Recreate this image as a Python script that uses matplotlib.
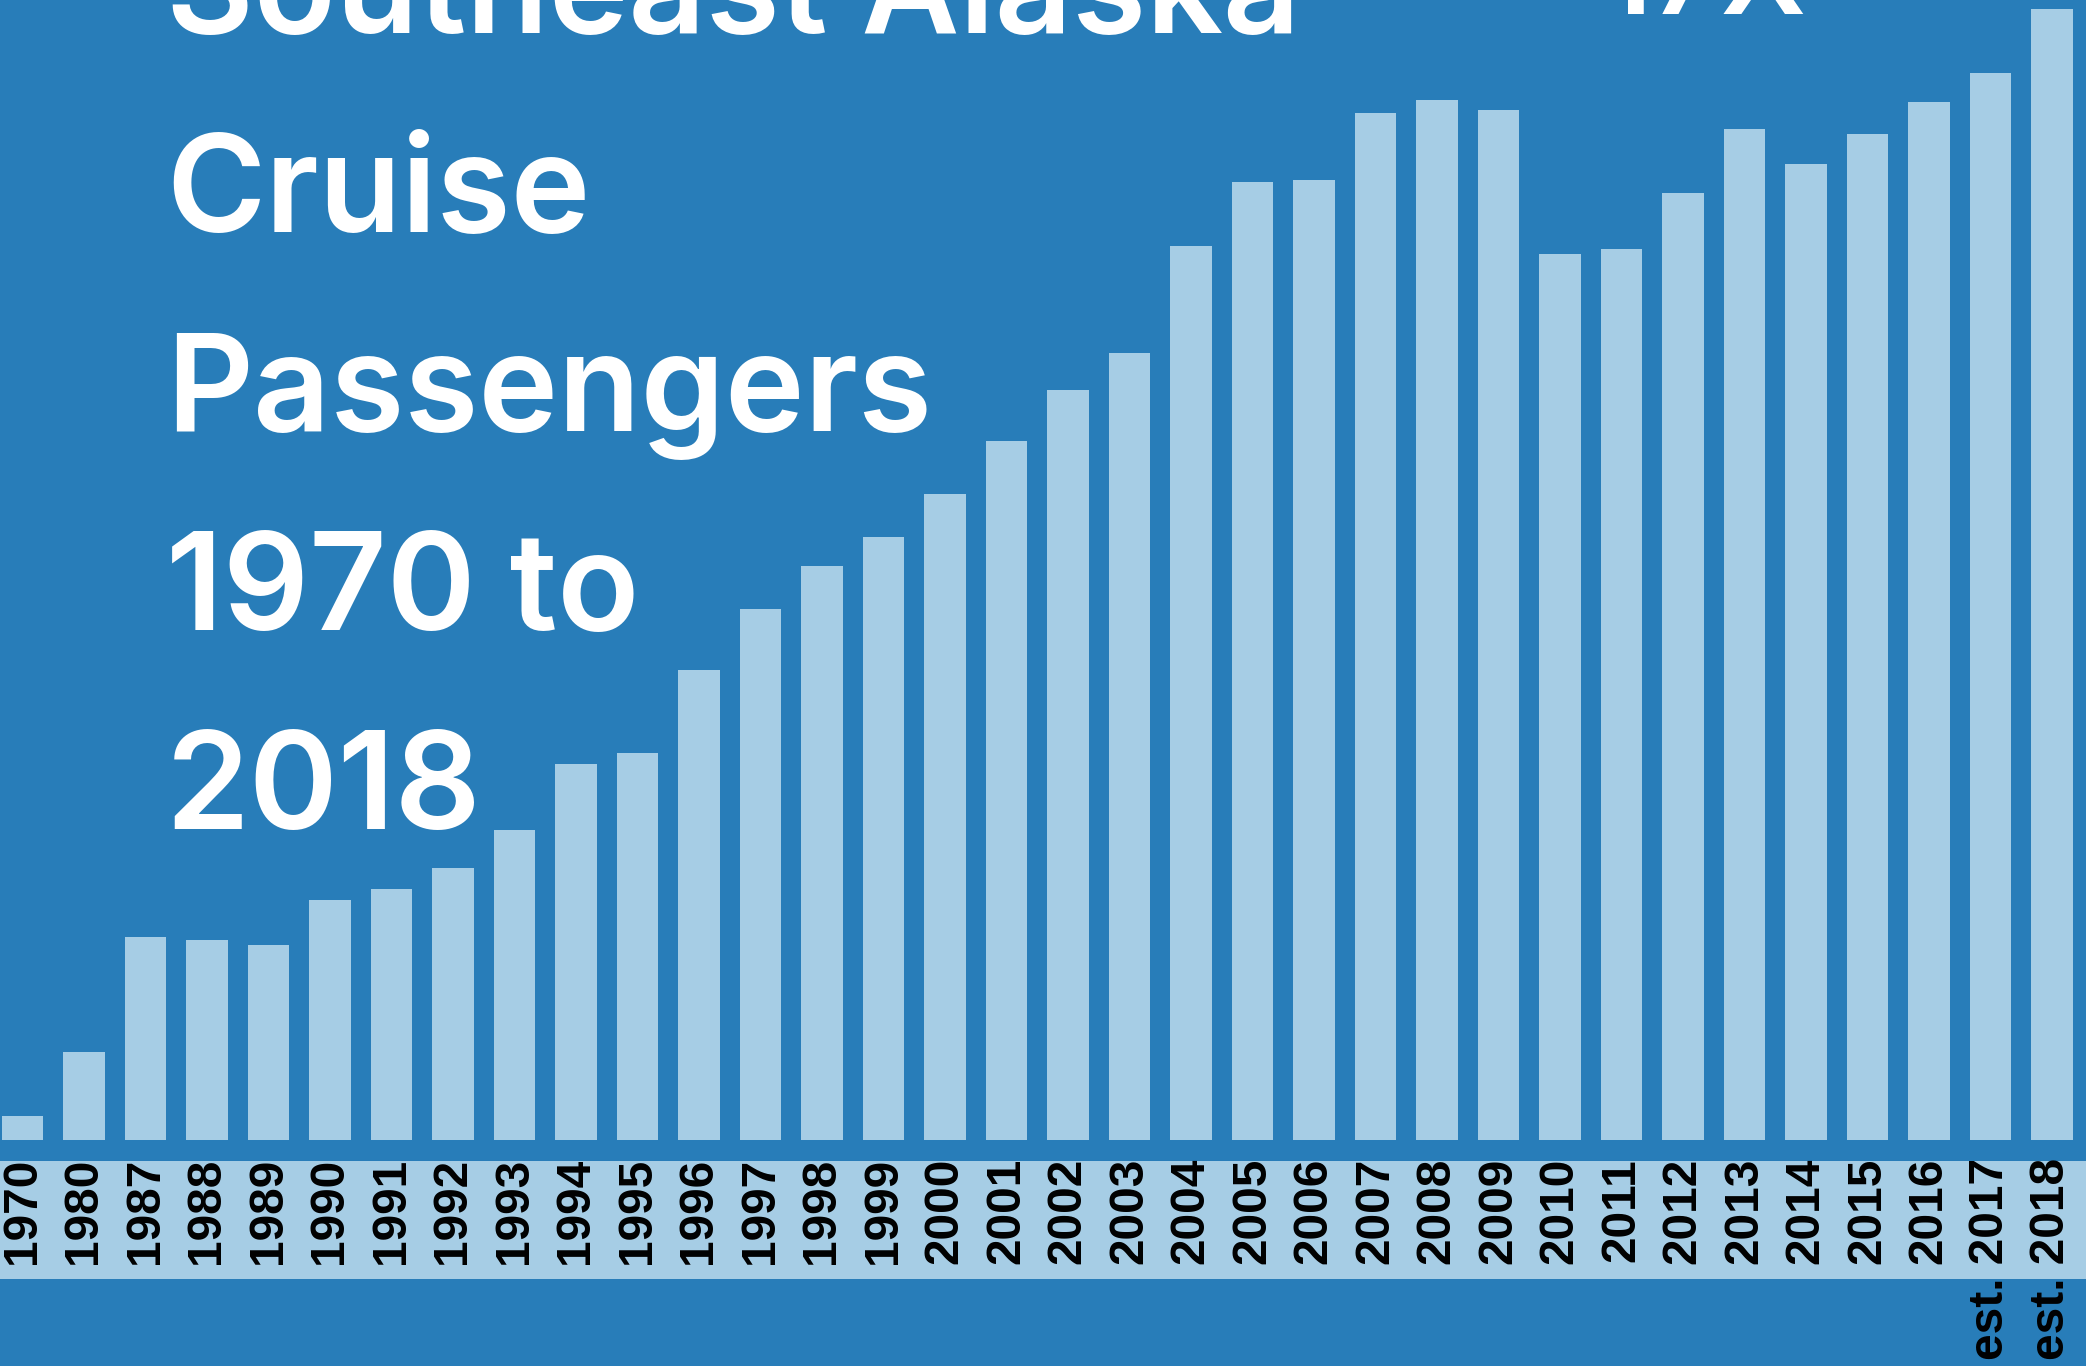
import matplotlib.pyplot as plt
from matplotlib.patches import Rectangle

# passengers, thousands
years = ['1970', '1980', '1987', '1988', '1989', '1990', '1991', '1992', '1993',
         '1994', '1995', '1996', '1997', '1998', '1999', '2000', '2001', '2002',
         '2003', '2004', '2005', '2006', '2007', '2008', '2009', '2010', '2011',
         '2012', '2013', '2014', '2015', '2016', 'est. 2017', 'est. 2018']
passengers = [25, 91, 210, 207, 202, 248, 260, 281, 321, 389, 400, 486, 549, 594,
              624, 668, 723, 776, 814, 925, 991, 993, 1062, 1076, 1065, 917, 922,
              980, 1046, 1010, 1041, 1074, 1104, 1170]
title_lines = ['Southeast Alaska', 'Cruise', 'Passengers', '1970 to', '2018']

bg = '#287db9'
light = '#a6cde5'

W, H = 2086, 1366
fig = plt.figure(figsize=(W / 100, H / 100), dpi=100, facecolor=bg)

# band behind the year labels
fig.patches.append(Rectangle((0, 87 / H), 1, 118 / H, transform=fig.transFigure,
                             facecolor=light, edgecolor='none', zorder=-1))

ax = fig.add_axes([0, 226 / H, 1, 1140 / H])
ax.set_facecolor('none')
x = list(range(len(years)))
ax.bar(x, passengers, width=0.67, color=light, zorder=2)
ax.set_xlim(-22.5 / 61.5, (W - 22.5) / 61.5)
ax.set_ylim(0, 1179.3)
ax.set_xticks(x)
ax.set_xticklabels(years, rotation=90, fontsize=34.5, fontweight='bold',
                   family='Liberation Sans', color='black')
ax.tick_params(axis='x', length=0, pad=13)
ax.set_yticks([])
for s in ax.spines.values():
    s.set_visible(False)

# big title, partly running off the top
for i, line in enumerate(title_lines):
    fig.text(166 / W, 1 - (33 + 199 * i) / H, line, fontsize=97, color='white',
             family='Inter', fontweight='semibold', va='baseline', ha='left', zorder=5)
fig.text(1602 / W, 1 - 14 / H, '17X', fontsize=86, color='white',
         family='Inter', fontweight='semibold', va='baseline', ha='left', zorder=5)

fig.savefig('out.png', dpi=100, facecolor=bg)
